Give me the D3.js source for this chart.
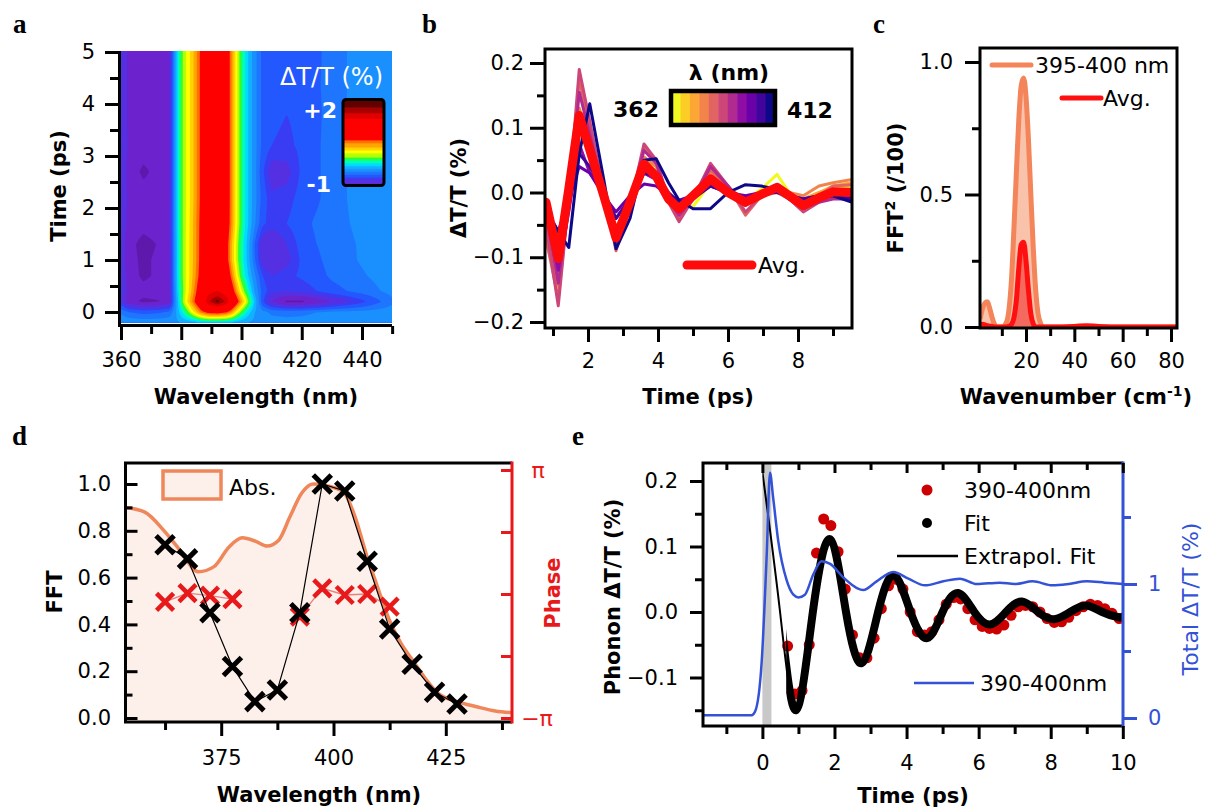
<!DOCTYPE html>
<html>
<head>
<meta charset="utf-8">
<script src="https://cdn.jsdelivr.net/npm/d3@7"></script>
<style>
body{margin:0;background:#fff;}
</style>
</head>
<body>
<div id="canvas"></div>
<script>
// ---- a: transient map, rows = time, columns = wavelength
var aWave = [360, 362.5, 367.5, 372.5, 376, 377.5, 379, 380.5, 382.5, 384.5, 386.5, 389, 392, 395, 397, 398.5, 400, 402, 404.5, 407, 410, 415, 420, 425, 430, 440, 450];
var aTime = [-0.2, 0, 0.2, 0.4, 0.7, 1.0, 1.3, 1.7, 2.2, 2.7, 3.2, 3.8, 4.4, 5.05];
var aSignal = [
  [-0.45,-0.46,-0.47,-0.47,-0.46,-0.45,-0.43,-0.41,-0.39,-0.36,-0.33,-0.3,-0.3,-0.32,-0.35,-0.38,-0.4,-0.42,-0.45,-0.47,-0.49,-0.5,-0.5,-0.5,-0.5,-0.49,-0.48],
  [-0.55,-0.62,-0.66,-0.64,-0.6,-0.5,-0.35,-0.2,0.0,0.25,0.5,0.68,0.72,0.62,0.4,0.15,-0.05,-0.25,-0.42,-0.5,-0.55,-0.56,-0.55,-0.53,-0.51,-0.5,-0.48],
  [-0.8,-1.0,-1.08,-1.06,-0.98,-0.6,-0.3,0.0,0.3,0.6,0.9,1.5,1.85,1.5,1.0,0.7,0.4,0.05,-0.35,-0.7,-0.92,-1.08,-1.08,-1.0,-0.92,-0.75,-0.55],
  [-0.78,-0.96,-1.0,-0.98,-0.95,-0.58,-0.25,-0.02,0.22,0.5,0.8,1.2,1.3,1.1,0.7,0.4,0.12,-0.15,-0.45,-0.66,-0.78,-0.8,-0.78,-0.72,-0.66,-0.58,-0.5],
  [-0.8,-0.98,-1.08,-1.02,-0.95,-0.56,-0.22,0.0,0.2,0.42,0.68,1.1,1.15,0.85,0.45,0.15,-0.1,-0.3,-0.52,-0.72,-0.8,-0.75,-0.7,-0.66,-0.6,-0.54,-0.48],
  [-0.82,-1.0,-1.08,-1.02,-0.95,-0.56,-0.22,0.0,0.2,0.4,0.65,1.05,1.05,0.7,0.3,0.05,-0.15,-0.35,-0.62,-0.86,-0.92,-0.84,-0.7,-0.64,-0.58,-0.52,-0.48],
  [-0.82,-1.0,-1.1,-1.04,-0.95,-0.56,-0.22,0.0,0.2,0.4,0.65,1.05,1.05,0.7,0.3,0.05,-0.15,-0.35,-0.64,-0.88,-0.92,-0.8,-0.68,-0.62,-0.57,-0.52,-0.48],
  [-0.8,-0.97,-1.0,-0.98,-0.94,-0.55,-0.2,0.0,0.19,0.4,0.64,1.05,1.08,0.78,0.4,0.12,-0.1,-0.3,-0.52,-0.7,-0.76,-0.72,-0.66,-0.6,-0.56,-0.51,-0.48],
  [-0.8,-0.95,-0.98,-0.97,-0.95,-0.55,-0.2,0.0,0.18,0.38,0.62,1.0,1.1,0.8,0.4,0.12,-0.1,-0.3,-0.5,-0.66,-0.78,-0.76,-0.68,-0.64,-0.56,-0.5,-0.48],
  [-0.8,-0.97,-1.08,-1.0,-0.95,-0.55,-0.2,0.0,0.18,0.38,0.62,1.0,1.1,0.8,0.4,0.12,-0.1,-0.3,-0.5,-0.7,-0.86,-0.84,-0.7,-0.64,-0.56,-0.5,-0.48],
  [-0.8,-0.94,-0.97,-0.96,-0.95,-0.55,-0.2,0.0,0.18,0.38,0.62,1.0,1.1,0.8,0.4,0.12,-0.1,-0.3,-0.5,-0.65,-0.72,-0.74,-0.7,-0.64,-0.56,-0.5,-0.48],
  [-0.8,-0.95,-0.98,-0.96,-0.95,-0.55,-0.2,0.0,0.18,0.38,0.62,1.0,1.1,0.8,0.4,0.12,-0.1,-0.3,-0.5,-0.65,-0.7,-0.72,-0.7,-0.65,-0.56,-0.5,-0.48],
  [-0.8,-0.95,-0.99,-0.97,-0.95,-0.55,-0.2,0.0,0.18,0.38,0.62,1.0,1.1,0.8,0.4,0.12,-0.1,-0.3,-0.5,-0.65,-0.72,-0.72,-0.7,-0.64,-0.56,-0.5,-0.48],
  [-0.8,-0.95,-0.98,-0.96,-0.95,-0.55,-0.2,0.0,0.18,0.38,0.62,1.0,1.1,0.8,0.4,0.12,-0.1,-0.3,-0.5,-0.65,-0.7,-0.72,-0.7,-0.65,-0.56,-0.5,-0.48]
];
var aLevels = [-1.25, -1.05, -0.92, -0.8, -0.72, -0.62, -0.53, -0.42, -0.32, -0.22, -0.12, 0.0, 0.1, 0.22, 0.34, 0.46, 0.58, 1.3, 1.55, 1.75];
var aBandColors = ['#5e18ac','#6c22cc','#5430e2','#3a3cf4','#2458ff','#1e76ff','#1a90ff','#12b0ff','#00dcff','#00ffb4','#28ff40','#b8ff00','#ffff00','#ffd200','#ffa400','#ff7000','#ff0000','#e00000','#a80000','#600000'];

// ---- b: oscillations at each probe wavelength
var bTime = [0.8, 1.15, 1.45, 1.75, 2.05, 2.45, 2.8, 3.2, 3.6, 3.95, 4.3, 4.6, 5.0, 5.5, 6.0, 6.5, 6.95, 7.4, 7.75, 8.15, 8.6, 9.0, 9.55];
var bLambda = [362, 367, 372, 377, 382, 387, 392, 397, 402, 407, 412];
var bSeries = [
  [-0.02,-0.09,0.0,0.13,0.08,0.0,-0.06,-0.01,0.05,0.04,-0.005,-0.02,-0.022,0.015,0.005,-0.012,0.005,0.028,0.0,-0.015,-0.005,0.002,0.005],
  [-0.03,-0.11,0.0,0.115,0.07,0.0,-0.06,-0.01,0.05,0.03,-0.01,-0.025,-0.005,0.018,0.005,-0.012,0.0,0.01,0.0,-0.015,-0.005,0.005,0.01],
  [-0.06,-0.13,0.0,0.1,0.065,0.0,-0.055,-0.01,0.04,0.03,-0.01,-0.025,-0.005,0.02,0.005,-0.015,0.0,0.01,0.0,-0.01,0.0,0.01,0.015],
  [-0.075,-0.145,-0.01,0.13,0.07,-0.005,-0.075,-0.02,0.055,0.04,-0.01,-0.035,-0.01,0.03,0.01,-0.02,0.0,0.01,0.0,-0.005,0.01,0.015,0.02],
  [-0.07,-0.165,-0.01,0.175,0.1,0.0,-0.09,-0.02,0.07,0.05,-0.01,-0.04,-0.01,0.035,0.01,-0.035,-0.005,0.005,-0.005,-0.02,-0.005,0.01,0.012],
  [-0.05,-0.175,-0.01,0.19,0.11,0.0,-0.085,-0.02,0.075,0.05,-0.015,-0.045,-0.01,0.045,0.01,-0.03,-0.005,0.0,-0.01,-0.03,-0.015,-0.005,-0.005],
  [-0.03,-0.14,-0.02,0.155,0.09,0.0,-0.075,-0.015,0.065,0.045,-0.01,-0.035,-0.01,0.04,0.01,-0.02,0.0,0.005,-0.01,-0.025,-0.015,-0.01,-0.01],
  [-0.02,-0.12,-0.03,0.075,0.03,0.0,-0.04,-0.01,0.03,0.02,-0.005,-0.02,-0.01,0.02,0.005,-0.01,0.0,0.005,-0.005,-0.015,-0.01,-0.005,-0.01],
  [-0.025,-0.06,-0.01,0.04,0.03,-0.005,-0.03,-0.005,0.013,0.01,-0.005,-0.012,-0.005,0.01,0.0,-0.005,0.0,0.005,-0.005,-0.01,-0.005,0.0,-0.005],
  [-0.03,-0.08,-0.02,0.06,0.04,0.0,-0.04,-0.01,0.03,0.025,0.0,-0.015,-0.01,0.01,0.0,-0.01,0.0,0.0,-0.005,-0.01,-0.005,-0.005,-0.01],
  [-0.03,-0.06,-0.085,0.06,0.137,0.02,-0.087,-0.04,0.05,0.052,0.015,-0.012,-0.025,-0.025,0.0,0.012,0.01,0.005,-0.01,-0.015,-0.005,-0.005,-0.015]
];
var bAvg = [-0.015,-0.102,0.005,0.119,0.066,-0.005,-0.07,-0.015,0.044,0.025,-0.01,-0.025,-0.005,0.021,0.0,-0.015,-0.003,0.008,-0.005,-0.02,-0.008,0.001,0.0];

// ---- c: power spectra
var cWave = [1,2,3,4,5,6,7,8,10,12,13,14,15,16,17,18,19,20,21,22,23,24,25,26,27,28,30,40,45,50,60,70,82.5];
var cBand = [0.03,0.07,0.09,0.095,0.07,0.035,0.01,0.0,0.0,0.02,0.07,0.18,0.37,0.58,0.78,0.91,0.94,0.87,0.71,0.5,0.3,0.14,0.05,0.015,0.0,0.0,0.0,0.0,0.0,0.0,0.0,0.0,0.0];
var cAvg = [0.008,0.01,0.008,0.005,0.003,0.002,0.0,0.0,0.0,0.0,0.003,0.01,0.035,0.1,0.22,0.31,0.32,0.25,0.14,0.05,0.012,0.0,0.0,0.0,0.0,0.0,0.0,0.002,0.005,0.002,0.0,0.0,0.0];

// ---- d: FFT amplitude / phase vs wavelength, absorption
var dWave = [362.5, 367.5, 372.5, 377.5, 382.5, 387.5, 392.5, 397.5, 402.5, 407.5, 412.5, 417.5, 422.5, 427.5];
var dFFT = [0.74, 0.68, 0.45, 0.22, 0.07, 0.12, 0.45, 1.0, 0.97, 0.67, 0.38, 0.23, 0.11, 0.06];
var dPhase = [-0.2, 0.02, -0.04, -0.13, null, null, -0.575, 0.144, -0.025, 0.0, -0.32, null, null, null];
var dAbsWave = [353.7, 358, 362.3, 365.7, 369.9, 373.4, 376.7, 379.7, 382.7, 385.2, 387.8, 390.3, 392.9, 395.4, 398, 400, 402.2, 404.8, 407.3, 409.8, 412.4, 415, 417.5, 420.4, 423.3, 427.5, 431.9, 436, 439.7];
var dAbs = [0.90, 0.88, 0.80, 0.72, 0.625, 0.647, 0.73, 0.77, 0.755, 0.735, 0.76, 0.86, 0.96, 1.0, 0.995, 0.985, 0.967, 0.86, 0.70, 0.56, 0.42, 0.32, 0.25, 0.17, 0.105, 0.07, 0.048, 0.03, 0.023];

// ---- e: phonon trace and fit, total signal
var eDataTime = [0.7,0.9,1.1,1.3,1.5,1.7,1.9,2.1,2.3,2.5,2.7,2.9,3.1,3.3,3.5,3.7,3.9,4.1,4.3,4.5,4.7,4.9,5.1,5.3,5.5,5.7,5.9,6.1,6.3,6.5,6.7,6.9,7.1,7.3,7.5,7.7,7.9,8.1,8.3,8.5,8.7,8.9,9.1,9.3,9.5,9.7,9.9];
var eData = [-0.052,-0.125,-0.12,-0.05,0.09,0.142,0.132,0.092,0.035,-0.035,-0.07,-0.07,-0.04,0.005,0.04,0.05,0.035,0.0,-0.03,-0.035,-0.03,-0.012,0.012,0.022,0.02,0.005,-0.012,-0.022,-0.025,-0.026,-0.02,-0.005,0.008,0.01,0.008,0.0,-0.01,-0.016,-0.015,-0.008,0.002,0.008,0.012,0.01,0.005,-0.002,-0.01];
var eFitTime = [0.0, 0.49, 0.93, 1.40, 1.88, 2.32, 2.76, 3.21, 3.65, 4.11, 4.57, 5.0, 5.43, 5.88, 6.32, 6.76, 7.2, 7.65, 8.09, 8.54, 8.98, 9.43, 9.88, 10.0];
var eFit = [0.214, 0.0, -0.150, 0.0, 0.111, 0.0, -0.078, 0.0, 0.056, 0.0, -0.040, 0.0, 0.029, 0.0, -0.019, 0.0, 0.016, 0.0, -0.011, 0.0, 0.010, 0.0, -0.008, -0.007];
var eFitStart = 0.66;
var eTotalTime = [-1.64, -0.3, -0.2, -0.02, 0.12, 0.21, 0.3, 0.44, 0.67, 0.86, 1.0, 1.18, 1.41, 1.64, 1.88, 2.24, 2.62, 2.8, 3.17, 3.63, 4.05, 4.51, 5.02, 5.48, 5.95, 6.59, 7.0, 7.5, 8.05, 8.5, 9.0, 9.5, 10.0];
var eTotal = [0.02, 0.02, 0.05, 0.42, 1.22, 1.83, 1.64, 1.32, 1.03, 0.92, 0.9, 0.92, 1.07, 1.17, 1.15, 1.05, 0.97, 0.955, 1.02, 1.09, 1.04, 0.99, 1.02, 1.04, 1.0, 1.01, 1.0, 1.02, 0.99, 1.0, 1.02, 1.01, 1.0];
var ePump = [0, 0.25];

var FONT = 'DejaVu Sans';
var svg = d3.select('#canvas').append('svg').attr('width', 1207).attr('height', 809)
    .attr('font-family', FONT);
svg.append('rect').attr('width', 1207).attr('height', 809).attr('fill', '#fff');
var defs = svg.append('defs');

function clip(id, x, y, w, h){
  defs.append('clipPath').attr('id', id).append('rect')
    .attr('x', x).attr('y', y).attr('width', w).attr('height', h);
  return 'url(#' + id + ')';
}

//axis helper: ticks only, frames are drawn separately
function ticks(kind, scale, x, y, values, len, fmt, pad, color){
  var gen = {left: d3.axisLeft, right: d3.axisRight, top: d3.axisTop, bottom: d3.axisBottom}[kind](scale)
    .tickValues(values).tickSizeInner(len).tickSizeOuter(0).tickPadding(pad || 0)
    .tickFormat(fmt || function(){ return ''; });
  var g = svg.append('g').attr('transform', 'translate(' + x + ',' + y + ')').call(gen);
  g.select('.domain').remove();
  g.attr('font-family', FONT).attr('font-size', 21);
  g.selectAll('.tick line').attr('stroke', color || '#000').attr('stroke-width', 3);
  g.selectAll('.tick text').attr('fill', color || '#000');
  return g;
}

function title(txt, x, y, rot, opts){
  opts = opts || {};
  var t = svg.append('text').attr('x', x).attr('y', y)
    .attr('text-anchor', opts.anchor || 'middle')
    .attr('font-size', opts.size || 21)
    .attr('font-weight', opts.weight || 'bold')
    .attr('fill', opts.color || '#000');
  if (rot) t.attr('transform', 'rotate(' + rot + ',' + x + ',' + y + ')');
  if (opts.html) t.html(txt); else t.text(txt);
  return t;
}

function letter(l, x, y){
  svg.append('text').attr('x', x).attr('y', y).text(l)
    .attr('font-family', 'Liberation Serif').attr('font-weight', 'bold').attr('font-size', 27);
}

function frame(x0, y0, x1, y1){
  svg.append('rect').attr('x', x0).attr('y', y0).attr('width', x1 - x0).attr('height', y1 - y0)
    .attr('fill', 'none').attr('stroke', '#000').attr('stroke-width', 3);
}

// ======================= a =======================
var ax = d3.scaleLinear().domain([360, 440]).range([121, 362]);
var ay = d3.scaleLinear().domain([0, 5]).range([312, 52]);
function bandColor(v){
  var k = Math.max(0, d3.bisectRight(aLevels, v) - 1);
  return aBandColors[k];
}

function sampleA(w, t){
  var i = Math.max(0, Math.min(aWave.length - 2, d3.bisectRight(aWave, w) - 1));
  var j = Math.max(0, Math.min(aTime.length - 2, d3.bisectRight(aTime, t) - 1));
  var fx = Math.max(0, Math.min(1, (w - aWave[i]) / (aWave[i+1] - aWave[i])));
  var fy = Math.max(0, Math.min(1, (t - aTime[j]) / (aTime[j+1] - aTime[j])));
  return aSignal[j][i] * (1-fx) * (1-fy) + aSignal[j][i+1] * fx * (1-fy)
       + aSignal[j+1][i] * (1-fx) * fy + aSignal[j+1][i+1] * fx * fy;
}

// fine grid, one cell per pixel column
var nx = 270, ny = 262, w0 = 360, w1 = 450, t0 = -0.2, t1 = 5.05;
var grid = [];
for (var j = 0; j < ny; j++){
  var tt = t1 - (j + 0.5) * (t1 - t0) / ny;
  for (var i = 0; i < nx; i++){
    grid.push(sampleA(w0 + (i + 0.5) * (w1 - w0) / nx, tt));
  }
}

var aMap = svg.append('g').attr('clip-path', clip('clipA', 121, 51, 271, 272));
aMap.append('rect').attr('x', 121).attr('y', 51).attr('width', 271).attr('height', 272).attr('fill', aBandColors[0]);
var cellW = (ax(w1) - ax(w0)) / nx, cellH = (ay(t0) - ay(t1)) / ny;
var contours = d3.contours().size([nx, ny]).thresholds(aLevels)(grid);
aMap.selectAll('path').data(contours).enter().append('path')
  .attr('transform', 'translate(' + ax(w0) + ',' + ay(t1) + ') scale(' + cellW + ',' + cellH + ')')
  .attr('d', d3.geoPath())
  .attr('fill', function(d){ return bandColor(d.value); });

// axes a
svg.append('line').attr('x1', 119.5).attr('x2', 119.5).attr('y1', 51).attr('y2', 327).attr('stroke', '#000').attr('stroke-width', 3);
svg.append('line').attr('x1', 118).attr('x2', 392).attr('y1', 325.5).attr('y2', 325.5).attr('stroke', '#000').attr('stroke-width', 3);
ticks('left', ay, 118, 0, [0.5, 1.5, 2.5, 3.5, 4.5], 8);
ticks('left', ay, 118, 0, [0, 1, 2, 3, 4, 5], 13, d3.format('d'), 10);
ticks('bottom', ax, 0, 326, [370, 390, 410, 430, 450], 8);
ticks('bottom', ax, 0, 326, [360, 380, 400, 420, 440], 14, d3.format('d'), 12);
title('Time (ps)', 66, 186, -90);
title('Wavelength (nm)', 256, 404);

// colour bar legend, +2 at the top and -1 at the bottom
var grad = defs.append('linearGradient').attr('id', 'aGrad').attr('x1', 0).attr('x2', 0).attr('y1', 0).attr('y2', 1);
d3.range(0, 61).forEach(function(k){
  grad.append('stop').attr('offset', k / 60).attr('stop-color', bandColor(2 - k * 0.05));
});
svg.append('rect').attr('x', 343).attr('y', 99.5).attr('width', 41).attr('height', 86).attr('rx', 3)
  .attr('fill', 'url(#aGrad)').attr('stroke', '#000').attr('stroke-width', 3);
title('\u0394T/T (%)', 383, 85, 0, {anchor: 'end', size: 24, weight: 'normal', color: '#fff'});
title('+2', 337, 118, 0, {anchor: 'end', size: 22, color: '#fff'});
title('-1', 331, 192, 0, {anchor: 'end', size: 22, color: '#fff'});

// ======================= b =======================
var bx = d3.scaleLinear().domain([2, 8]).range([588, 798]);
var by = d3.scaleLinear().domain([-0.2, 0.2]).range([322, 63]);
var bColor = function(k){ return d3.interpolatePlasma(1 - k / (bLambda.length - 1)); };
var bLine = d3.line().x(function(d, k){ return bx(bTime[k]); }).y(function(d){ return by(d); });
var bPlot = svg.append('g').attr('clip-path', clip('clipB', 545, 49, 307, 279));
bPlot.selectAll('path.lam').data(bSeries).enter().append('path').attr('class', 'lam')
  .attr('d', bLine).attr('fill', 'none')
  .attr('stroke', function(d, k){ return bColor(k); })
  .attr('stroke-width', 3).attr('stroke-linejoin', 'round');
bPlot.append('path').datum(bAvg).attr('d', bLine).attr('fill', 'none')
  .attr('stroke', '#ff0a0a').attr('stroke-width', 9).attr('stroke-linejoin', 'round').attr('stroke-linecap', 'round');
frame(545, 49, 852, 328);
ticks('left', by, 545, 0, [-0.15, -0.05, 0.05, 0.15], 8);
ticks('left', by, 545, 0, [-0.2, -0.1, 0, 0.1, 0.2], 15, d3.format('.1f'), 6);
ticks('bottom', bx, 0, 328, [1, 3, 5, 7, 9], 8);
ticks('bottom', bx, 0, 328, [2, 4, 6, 8], 14, d3.format('d'), 11);
title('\u0394T/T (%)', 466, 188, -90);
title('Time (ps)', 698, 404);

// wavelength colour legend
var segW = 104 / bLambda.length;
svg.selectAll('rect.seg').data(bLambda).enter().append('rect').attr('class', 'seg')
  .attr('x', function(d, k){ return 671 + k * segW; }).attr('y', 91)
  .attr('width', segW + 0.5).attr('height', 34)
  .attr('fill', function(d, k){ return bColor(k); });
svg.append('rect').attr('x', 671).attr('y', 91).attr('width', 104).attr('height', 34)
  .attr('fill', 'none').attr('stroke', '#000').attr('stroke-width', 4.5);
title(String(bLambda[0]), 659, 117, 0, {anchor: 'end', size: 22});
title(String(bLambda[bLambda.length - 1]), 787, 118, 0, {anchor: 'start', size: 22});
title('\u03bb (nm)', 729, 80, 0, {size: 22});
svg.append('line').attr('x1', 687).attr('x2', 752).attr('y1', 265).attr('y2', 265)
  .attr('stroke', '#ff0a0a').attr('stroke-width', 9).attr('stroke-linecap', 'round');
title('Avg.', 758, 273, 0, {anchor: 'start', size: 22, weight: 'normal'});

// ======================= c =======================
var cx = d3.scaleLinear().domain([20, 80]).range([1026, 1171]);
var cy = d3.scaleLinear().domain([0, 1]).range([327, 62]);
var cArea = d3.area().curve(d3.curveMonotoneX).x(function(d, k){ return cx(cWave[k]); }).y0(cy(0)).y1(function(d){ return cy(d); });
var cLine = d3.line().curve(d3.curveMonotoneX).x(function(d, k){ return cx(cWave[k]); }).y(function(d){ return cy(d); });
var cPlot = svg.append('g').attr('clip-path', clip('clipC', 980, 48, 197, 280));
cPlot.append('path').datum(cBand).attr('d', cArea).attr('fill', '#f9c2aa');
cPlot.append('path').datum(cBand).attr('d', cLine).attr('fill', 'none').attr('stroke', '#f4845a').attr('stroke-width', 5);
cPlot.append('path').datum(cAvg).attr('d', cArea).attr('fill', '#f35a52').attr('opacity', 0.85);
cPlot.append('path').datum(cAvg).attr('d', cLine).attr('fill', 'none').attr('stroke', '#ff1010').attr('stroke-width', 5);
frame(980, 48, 1177, 328);
ticks('left', cy, 980, 0, [0.25, 0.75], 8);
ticks('left', cy, 980, 0, [0, 0.5, 1], 15, d3.format('.1f'), 12);
ticks('bottom', cx, 0, 328, [10, 30, 50, 70], 8);
ticks('bottom', cx, 0, 328, [20, 40, 60, 80], 14, d3.format('d'), 11);
title('FFT<tspan dy="-8" font-size="14">2</tspan><tspan dy="8"> (/100)</tspan>', 903, 188, -90, {html: true});
title('Wavenumber (cm<tspan dy="-8" font-size="14">-1</tspan><tspan dy="8">)</tspan>', 1076, 404, 0, {html: true});
svg.append('line').attr('x1', 992).attr('x2', 1031).attr('y1', 65).attr('y2', 65)
  .attr('stroke', '#f4845a').attr('stroke-width', 5).attr('stroke-linecap', 'round');
title('395-400 nm', 1035, 73, 0, {anchor: 'start', size: 22, weight: 'normal'});
svg.append('line').attr('x1', 1062).attr('x2', 1101).attr('y1', 98).attr('y2', 98)
  .attr('stroke', '#ff1010').attr('stroke-width', 5).attr('stroke-linecap', 'round');
title('Avg.', 1103, 106, 0, {anchor: 'start', size: 22, weight: 'normal'});

// ======================= d =======================
var dx = d3.scaleLinear().domain([375, 425]).range([221.2, 445.8]);
var dy = d3.scaleLinear().domain([0, 1]).range([718, 484]);
var dp = d3.scaleLinear().domain([-Math.PI, Math.PI]).range([718, 470]);
var dPlot = svg.append('g').attr('clip-path', clip('clipD', 125.5, 463, 386.5, 259));
dPlot.append('path').datum(dAbs)
  .attr('d', d3.area().curve(d3.curveMonotoneX).x(function(d, k){ return dx(dAbsWave[k]); }).y0(722).y1(function(d){ return dy(d); }))
  .attr('fill', '#fdefe9');
dPlot.append('path').datum(dAbs)
  .attr('d', d3.line().curve(d3.curveMonotoneX).x(function(d, k){ return dx(dAbsWave[k]); }).y(function(d){ return dy(d); }))
  .attr('fill', 'none').attr('stroke', '#f0875a').attr('stroke-width', 3.5);

var xMark = function(s){ return 'M' + (-s) + ',' + (-s) + 'L' + s + ',' + s + 'M' + (-s) + ',' + s + 'L' + s + ',' + (-s); };
dPlot.append('path').datum(dPhase)
  .attr('d', d3.line().defined(function(d){ return d !== null; })
    .x(function(d, k){ return dx(dWave[k]); }).y(function(d){ return dp(d); }))
  .attr('fill', 'none').attr('stroke', '#e98080').attr('stroke-width', 1.3);
dPlot.selectAll('path.ph').data(dPhase.map(function(p, k){ return {w: dWave[k], p: p}; }).filter(function(d){ return d.p !== null; }))
  .enter().append('path').attr('class', 'ph')
  .attr('transform', function(d){ return 'translate(' + dx(d.w) + ',' + dp(d.p) + ')'; })
  .attr('d', xMark(8.5)).attr('stroke', '#e8191a').attr('stroke-width', 4.5);
dPlot.append('path').datum(dFFT)
  .attr('d', d3.line().x(function(d, k){ return dx(dWave[k]); }).y(function(d){ return dy(d); }))
  .attr('fill', 'none').attr('stroke', '#000').attr('stroke-width', 1.2);
dPlot.selectAll('path.fft').data(dFFT).enter().append('path').attr('class', 'fft')
  .attr('transform', function(d, k){ return 'translate(' + dx(dWave[k]) + ',' + dy(d) + ')'; })
  .attr('d', xMark(9)).attr('stroke', '#000').attr('stroke-width', 5);

svg.append('path').attr('d', 'M512,463H125.5V722H512').attr('fill', 'none').attr('stroke', '#000').attr('stroke-width', 3);
svg.append('line').attr('x1', 512).attr('x2', 512).attr('y1', 461.5).attr('y2', 723.5).attr('stroke', '#e8191a').attr('stroke-width', 3);
ticks('left', dy, 125.5, 0, [0.1, 0.3, 0.5, 0.7, 0.9], -7);
ticks('left', dy, 125.5, 0, [0, 0.2, 0.4, 0.6, 0.8, 1.0], -12, d3.format('.1f'), 14.5);
ticks('bottom', dx, 0, 722, [362.5, 387.5, 412.5, 437.5], 8);
ticks('bottom', dx, 0, 722, [375, 400, 425], 14, d3.format('d'), 14.5);
ticks('right', dp, 512, 0, [-Math.PI, -Math.PI / 2, 0, Math.PI / 2, Math.PI], -11, null, 0, '#e8191a');
title('\u03c0', 538, 478, 0, {size: 22, weight: 'normal', color: '#e8191a'});
title('\u2212\u03c0', 537, 726, 0, {size: 22, weight: 'normal', color: '#e8191a'});
title('Phase', 560, 593, -90, {color: '#e8191a'});
title('FFT', 62, 592, -90);
title('Wavelength (nm)', 319, 802);
svg.append('rect').attr('x', 163).attr('y', 471).attr('width', 58).attr('height', 28)
  .attr('fill', '#fdefe9').attr('stroke', '#f0875a').attr('stroke-width', 3.5);
title('Abs.', 229, 495, 0, {anchor: 'start', size: 22, weight: 'normal'});

// ======================= e =======================
var ex = d3.scaleLinear().domain([0, 10]).range([762.4, 1122.8]);
var ey = d3.scaleLinear().domain([0, 0.2]).range([612, 481]);
var eb = d3.scaleLinear().domain([0, 1]).range([718, 584]);
var ePlot = svg.append('g').attr('clip-path', clip('clipE', 703, 463, 420, 263));
ePlot.append('rect').attr('x', ex(ePump[0])).attr('y', 463).attr('width', ex(ePump[1]) - ex(ePump[0])).attr('height', 263).attr('fill', '#c8c8c8');
ePlot.selectAll('circle.dat').data(eData).enter().append('circle').attr('class', 'dat')
  .attr('cx', function(d, k){ return ex(eDataTime[k]); }).attr('cy', function(d){ return ey(d); })
  .attr('r', 5.5).attr('fill', '#cc0000');
var eFitLine = d3.line().curve(d3.curveNatural).x(function(d, k){ return ex(eFitTime[k]); }).y(function(d){ return ey(d); });
defs.append('clipPath').attr('id', 'clipExt').append('rect').attr('x', ex(0)).attr('y', 463).attr('width', ex(eFitStart + 0.05) - ex(0)).attr('height', 263);
defs.append('clipPath').attr('id', 'clipFit').append('rect').attr('x', ex(eFitStart)).attr('y', 463).attr('width', 1123 - ex(eFitStart)).attr('height', 263);
ePlot.append('path').datum(eFit).attr('d', eFitLine).attr('clip-path', 'url(#clipExt)')
  .attr('fill', 'none').attr('stroke', '#000').attr('stroke-width', 2);
ePlot.append('path').datum(eFit).attr('d', eFitLine).attr('clip-path', 'url(#clipFit)')
  .attr('fill', 'none').attr('stroke', '#000').attr('stroke-width', 8).attr('stroke-linecap', 'round');
ePlot.append('path').datum(eTotal)
  .attr('d', d3.line().curve(d3.curveMonotoneX).x(function(d, k){ return ex(eTotalTime[k]); }).y(function(d){ return eb(d); }))
  .attr('fill', 'none').attr('stroke', '#3352d6').attr('stroke-width', 2.5);

svg.append('path').attr('d', 'M1123,463H703V726H1123').attr('fill', 'none').attr('stroke', '#000').attr('stroke-width', 3);
svg.append('line').attr('x1', 1123).attr('x2', 1123).attr('y1', 461.5).attr('y2', 727.5).attr('stroke', '#3352d6').attr('stroke-width', 3);
ticks('left', ey, 703, 0, [-0.15, -0.05, 0.05, 0.15], 8);
ticks('left', ey, 703, 0, [-0.1, 0, 0.1, 0.2], 13, d3.format('.1f'), 12);
ticks('bottom', ex, 0, 726, [-1, 1, 3, 5, 7, 9], 8);
ticks('bottom', ex, 0, 726, [0, 2, 4, 6, 8, 10], 13, d3.format('d'), 16);
ticks('top', ex, 0, 463, [-1, 1, 3, 5, 7, 9], -7);
ticks('top', ex, 0, 463, [0, 2, 4, 6, 8, 10], -10);
ticks('right', eb, 1123, 0, [0.5, 1.5], 8, null, 0, '#3352d6');
ticks('right', eb, 1123, 0, [0, 1], 14, d3.format('d'), 11, '#3352d6');
title('Phonon \u0394T/T (%)', 620, 597, -90);
title('Total \u0394T/T (%)', 1198, 599, -90, {weight: 'normal', size: 22, color: '#3352d6'});
title('Time (ps)', 913, 803);

svg.append('circle').attr('cx', 927).attr('cy', 490).attr('r', 5.5).attr('fill', '#cc0000');
title('390-400nm', 964, 498, 0, {anchor: 'start', size: 22, weight: 'normal'});
svg.append('circle').attr('cx', 927).attr('cy', 523).attr('r', 5).attr('fill', '#000');
title('Fit', 964, 531, 0, {anchor: 'start', size: 22, weight: 'normal'});
svg.append('line').attr('x1', 897).attr('x2', 958).attr('y1', 556).attr('y2', 556).attr('stroke', '#000').attr('stroke-width', 2.5);
title('Extrapol. Fit', 964, 564, 0, {anchor: 'start', size: 22, weight: 'normal'});
svg.append('line').attr('x1', 914).attr('x2', 974).attr('y1', 683).attr('y2', 683).attr('stroke', '#3352d6').attr('stroke-width', 2.5);
title('390-400nm', 980, 691, 0, {anchor: 'start', size: 22, weight: 'normal'});

letter('a', 13, 33);
letter('b', 422, 33);
letter('c', 873, 33);
letter('d', 12, 445);
letter('e', 572, 445);
</script>
</body>
</html>
